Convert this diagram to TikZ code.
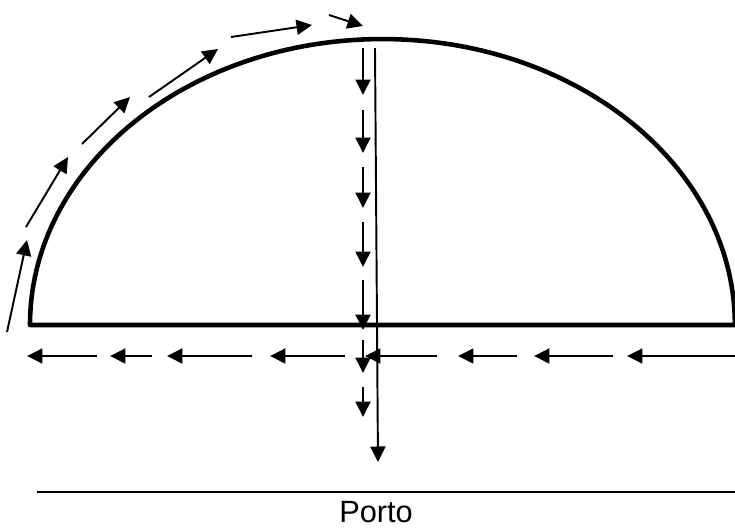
\documentclass[tikz,border=0pt]{standalone}
\usepackage{fontspec}
\setmainfont{Liberation Sans}
\usetikzlibrary{arrows.meta}

\begin{document}
\begin{tikzpicture}[x=0.02cm,y=-0.02cm,
        dome/.style={draw=black,line width=2.6pt,line join=round},
        thin/.style={draw=black,line width=1.1pt},
        arr/.style={thin,-{Triangle[length=0.31cm,width=0.3cm]}},
        lbl/.style={font=\fontsize{17.5}{20}\selectfont,inner sep=0pt}
      ]
        \useasboundingbox (0,0) rectangle (735,528);
        % dome and its floor
        \coordinate (bl) at (30,325);
        \draw[dome] (bl) arc[start angle=180,end angle=0,x radius=7.05cm,y radius=5.72cm] -- cycle;
        % long vertical
        \coordinate (vt) at (375,48);
        \coordinate (vb) at (378,462);
        \draw[arr] (vt) -- (vb);
        % arrows along the arc
        \foreach \i/\xa/\ya/\xb/\yb in {1/7/332/27/240, 2/26/227/68/157, 3/82/144/130/97,
                                        4/149/97/218/49, 5/231/37/312/25, 6/329/15/363/26} {
          \coordinate (at\i) at (\xa,\ya);
          \coordinate (ah\i) at (\xb,\yb);
          \draw[arr] (at\i) -- (ah\i);
        }
        % arrows going down
        \foreach \i/\ya/\yb in {1/48/95, 2/110/153, 3/167/208, 4/222/267,
                                5/280/330, 6/340/373, 7/387/417} {
          \coordinate (dt\i) at (363,\ya);
          \coordinate (dh\i) at (363,\yb);
          \draw[arr] (dt\i) -- (dh\i);
        }
        % arrows going left
        \foreach \i/\xa/\xb in {1/97/27, 2/152/110, 3/252/167, 4/345/270,
                                5/437/365, 6/517/458, 7/613/534, 8/735/627} {
          \coordinate (lt\i) at (\xa,356);
          \coordinate (lh\i) at (\xb,356);
          \draw[arr] (lt\i) -- (lh\i);
        }
        % ground line and label
        \coordinate (gl) at (37,492);
        \coordinate (gr) at (735,492);
        \draw[thin] (gl) -- (gr);
        \node[lbl,anchor=base] (porto) at (376,522) {Porto};
      \end{tikzpicture}
\end{document}
